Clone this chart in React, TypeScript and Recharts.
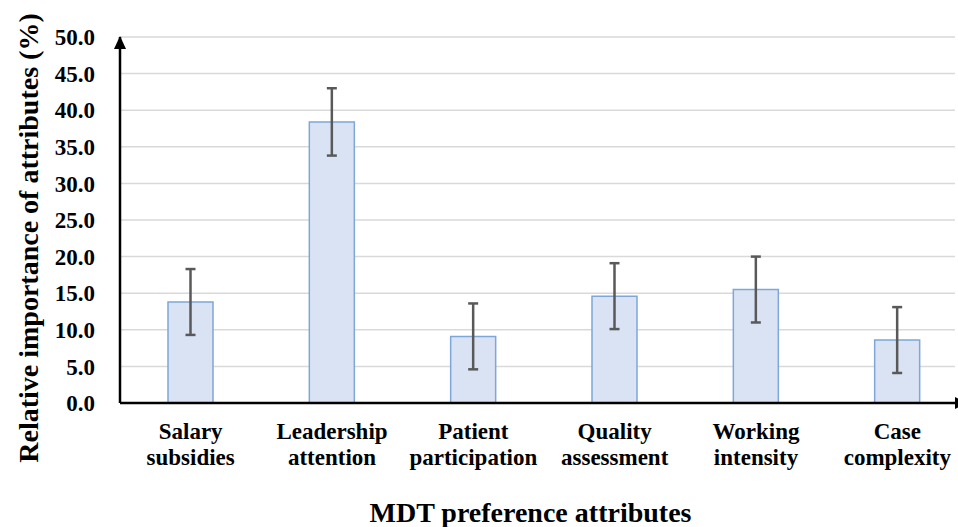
import React from 'react';
import { BarChart, Bar, XAxis, YAxis, CartesianGrid, ErrorBar, Label } from 'recharts';

const categories = [
  'Salary subsidies',
  'Leadership attention',
  'Patient participation',
  'Quality assessment',
  'Working intensity',
  'Case complexity',
];
const importance = [13.8, 38.4, 9.1, 14.6, 15.5, 8.6];
const errors = [4.5, 4.6, 4.5, 4.5, 4.5, 4.5];
const yTicks = [0, 5, 10, 15, 20, 25, 30, 35, 40, 45, 50];

const data = categories.map((name, i) => ({ name, value: importance[i], err: errors[i] }));

const FONT = '"Liberation Serif", "Times New Roman", serif';

const XTick = (props: any) => {
  const { x, y, payload } = props;
  const words = String(payload.value).split(' ');
  return (
    <g>
      <text x={x} y={y + 36} textAnchor="middle" fontFamily={FONT} fontWeight="bold" fontSize={23} fill="#000">
        {words[0]}
      </text>
      <text x={x} y={y + 62} textAnchor="middle" fontFamily={FONT} fontWeight="bold" fontSize={23} fill="#000">
        {words.slice(1).join(' ')}
      </text>
    </g>
  );
};

const YTitle = (props: any) => {
  const vb = props.viewBox || { x: 0, y: 37, width: 120, height: 366 };
  const cx = 28;
  const cy = vb.y + vb.height / 2 + 18;
  return (
    <text
      x={cx}
      y={cy}
      transform={`rotate(-90, ${cx}, ${cy})`}
      textAnchor="middle"
      dominantBaseline="central"
      fontFamily={FONT}
      fontWeight="bold"
      fontSize={28}
      fill="#000"
    >
      Relative importance of attributes (%)
    </text>
  );
};

const XTitle = (props: any) => {
  const vb = props.viewBox || { x: 120, y: 403, width: 835, height: 124 };
  const cx = vb.x + vb.width / 2 - 7;
  return (
    <text x={cx} y={522} textAnchor="middle" fontFamily={FONT} fontWeight="bold" fontSize={28} fill="#000">
      MDT preference attributes
    </text>
  );
};

export default function App() {
  return (
    <div style={{ position: 'absolute', left: 0, top: 0, width: 958, height: 527, background: '#fff', overflow: 'hidden' }}>
      <BarChart width={958} height={527} data={data} margin={{ top: 37, right: 3, bottom: 0, left: 0 }}>
        <defs>
          <marker id="arrowUp" markerUnits="userSpaceOnUse" markerWidth={14} markerHeight={12} refX={12} refY={6} orient="auto-start-reverse">
            <path d="M0,0 L13,6 L0,12 z" fill="#000" />
          </marker>
          <marker id="arrowRight" markerUnits="userSpaceOnUse" markerWidth={14} markerHeight={12} refX={0} refY={6} orient="auto">
            <path d="M0,0 L13,6 L0,12 z" fill="#000" />
          </marker>
        </defs>
        <CartesianGrid vertical={false} stroke="#d9d9d9" strokeWidth={1.5} />
        <XAxis
          dataKey="name"
          height={124}
          padding={{ left: 0, right: -13 }}
          tickLine={false}
          tickSize={0}
          tickMargin={0}
          tick={<XTick />}
          interval={0}
          axisLine={{ stroke: '#000', strokeWidth: 2.5, markerEnd: 'url(#arrowRight)' }}
        >
          <Label content={<XTitle />} />
        </XAxis>
        <YAxis
          width={120}
          domain={[0, 50]}
          ticks={yTicks}
          tickFormatter={(v: number) => v.toFixed(1)}
          tickLine={false}
          tickSize={0}
          tickMargin={25}
          tick={{ fontFamily: FONT, fontWeight: 'bold', fontSize: 23, fill: '#000' }}
          axisLine={{ stroke: '#000', strokeWidth: 2.5, markerStart: 'url(#arrowUp)' }}
        >
          <Label content={<YTitle />} />
        </YAxis>
        <Bar dataKey="value" barSize={45} fill="#dae3f3" stroke="#7ea6d8" strokeWidth={1.5} isAnimationActive={false}>
          <ErrorBar dataKey="err" width={5} stroke="#595959" strokeWidth={2.5} direction="y" />
        </Bar>
      </BarChart>
    </div>
  );
}
